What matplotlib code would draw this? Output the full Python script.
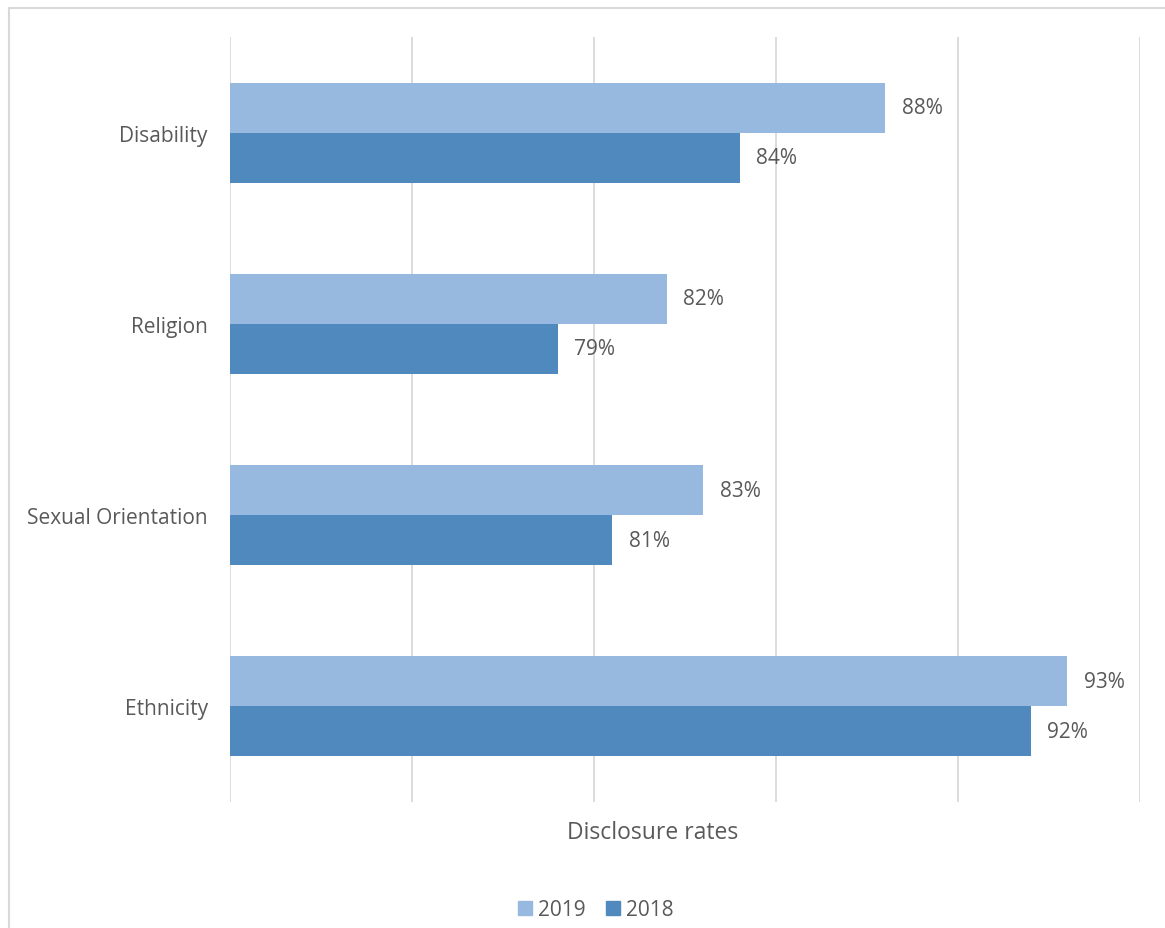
import numpy as np
import matplotlib.pyplot as plt
from matplotlib.patches import Rectangle, Patch

plt.rcParams['font.family'] = ['Open Sans', 'DejaVu Sans']

categories = ['Ethnicity', 'Sexual Orientation', 'Religion', 'Disability']
rates_2019 = [93, 83, 82, 88]
rates_2018 = [92, 80.5, 79, 84]
labels_2019 = ['93%', '83%', '82%', '88%']
labels_2018 = ['92%', '81%', '79%', '84%']

c2019 = '#97B8DF'
c2018 = '#4F89BD'
txt = '#595959'

W, H = 1165, 929
fig = plt.figure(figsize=(W / 100, H / 100), dpi=100)
# axes box in pixels: x 230..1140, y 38..803
ax = fig.add_axes([230 / W, 1 - 803 / H, 910 / W, 765 / H])

y = np.arange(len(categories))
h = 0.262
ax.barh(y + h / 2, rates_2019, height=h, color=c2019, zorder=3)
ax.barh(y - h / 2, rates_2018, height=h, color=c2018, zorder=3)

for yi, v, lab in zip(y + h / 2, rates_2019, labels_2019):
    ax.text(v + 0.45, yi, lab, va='center', ha='left', fontsize=15, color=txt)
for yi, v, lab in zip(y - h / 2, rates_2018, labels_2018):
    ax.text(v + 0.45, yi, lab, va='center', ha='left', fontsize=15, color=txt)

ax.set_xlim(70, 95)
ax.set_ylim(-0.5, 3.5)
ax.set_xticks(np.arange(70, 96, 5))
ax.set_xticklabels([])
ax.tick_params(axis='x', length=0)
ax.xaxis.grid(True, color='#D9D9D9', linewidth=1.3, zorder=0)
ax.set_yticks(y)
ax.set_yticklabels(categories, fontsize=15, color=txt)
ax.tick_params(axis='y', length=0, pad=16)
for s in ax.spines.values():
    s.set_visible(False)

fig.text(653 / W, 1 - 833 / H, 'Disclosure rates', ha='center', va='center',
         fontsize=16.5, color=txt)

# legend
handles = [Patch(color=c2019, label='2019'), Patch(color=c2018, label='2018')]
fig.legend(handles=handles, loc='center', bbox_to_anchor=(596 / W, 1 - 911 / H),
           ncol=2, frameon=False, fontsize=15, handlelength=0.65, handleheight=0.65,
           handletextpad=0.3, columnspacing=1.0, labelcolor=txt)

# outer chart border
fig.patches.append(Rectangle((8.5 / W, -0.1), 1.2, 1 - 8.5 / H + 0.1,
                             transform=fig.transFigure, fill=False,
                             edgecolor='#D9D9D9', linewidth=1.5))

fig.savefig('out.png', dpi=100)
